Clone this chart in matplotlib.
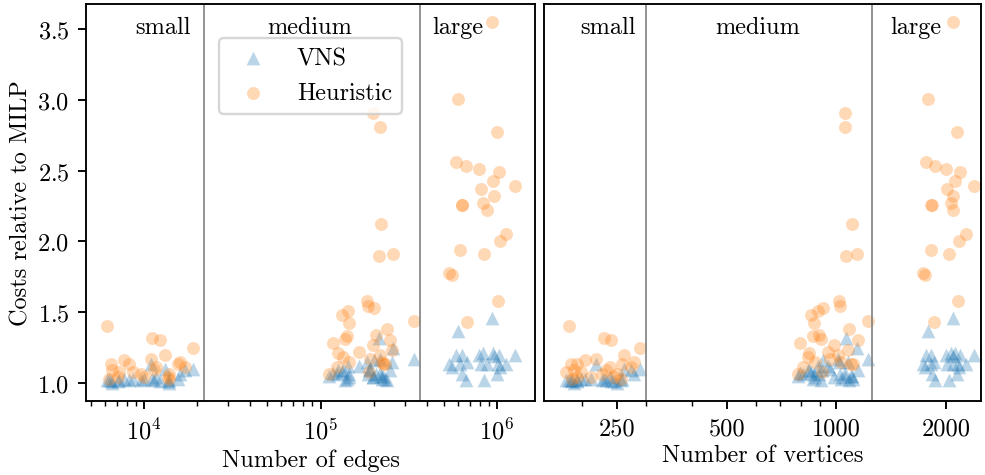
import matplotlib.pyplot as plt
import numpy as np
from matplotlib.ticker import NullFormatter

plt.rcParams['font.family'] = ['cmr10', 'DejaVu Serif']
plt.rcParams['mathtext.fontset'] = 'cm'
plt.rcParams['axes.formatter.use_mathtext'] = True
plt.rcParams['font.size'] = 10.3

# small instances
edges_small = [6170, 11100, 12300, 18950, 13150, 10960, 7700, 16000, 6500, 8220, 15580, 17070,
               11690, 6590, 7220, 8660, 11400, 13860, 9620, 7130, 10000, 13680, 6330, 13900]
vertices_small = [184, 229, 240, 289, 261, 218, 203, 278, 186, 193, 258, 273,
                  238, 190, 181, 199, 233, 250, 226, 193, 212, 244, 187, 256]
vns_small = [1.02, 1.03, 1.01, 1.10, 1.10, 1.13, 1.03, 1.06, 1.01, 1.02, 1.03, 1.09,
             1.04, 1.00, 1.02, 1.03, 1.02, 1.00, 1.02, 1.01, 1.03, 1.01, 1.02, 1.02]
heur_small = [1.40, 1.32, 1.30, 1.25, 1.20, 1.17, 1.16, 1.15, 1.13, 1.13, 1.13, 1.11,
              1.11, 1.09, 1.08, 1.08, 1.09, 1.06, 1.06, 1.04, 1.04, 1.04, 1.03, 1.03]

# medium instances
edges_medium = [198000, 217000, 220000, 257600, 214500, 183400, 185800, 201000, 143200, 132400, 145000,
                338800, 238200, 206300, 141300, 137700, 247600, 117800, 199000, 255000, 165200, 125700,
                216000, 134000, 190600, 144000, 222900, 226000, 231000, 124000, 187000, 111700]
vertices_medium = [1059, 1055, 1107, 1142, 1066, 1019, 1026, 921, 893, 854, 870,
                   1224, 1086, 898, 864, 909, 1150, 796, 988, 1079, 951, 843,
                   1013, 838, 960, 872, 1032, 1100, 1112, 812, 915, 786]
vns_medium = [1.04, 1.07, 1.05, 1.25, 1.32, 1.15, 1.06, 1.16, 1.12, 1.08, 1.06,
              1.17, 1.02, 1.06, 1.03, 1.02, 1.09, 1.07, 1.04, 1.15, 1.12, 1.09,
              1.17, 1.09, 1.10, 1.04, 1.03, 1.05, 1.03, 1.06, 1.09, 1.05]
heur_medium = [2.91, 2.81, 2.12, 1.91, 1.90, 1.58, 1.54, 1.53, 1.51, 1.48, 1.42,
               1.44, 1.38, 1.34, 1.33, 1.31, 1.30, 1.28, 1.27, 1.23, 1.22, 1.21,
               1.20, 1.18, 1.17, 1.15, 1.15, 1.13, 1.13, 1.11, 1.08, 1.06]

# large instances
edges_large = [937000, 601000, 1000000, 586000, 667000, 790000, 1026000, 949000, 1265000, 811000, 955000, 633000,
               635000, 833000, 877000, 1125000, 1040000, 617000, 844000, 535000, 556000, 1013000, 676000]
vertices_large = [2097, 1790, 2150, 1768, 1871, 2007, 2192, 2124, 2395, 2019, 2097, 1825,
                  1830, 2071, 2100, 2277, 2178, 1825, 2045, 1735, 1757, 2160, 1860]
vns_large = [1.46, 1.37, 1.06, 1.20, 1.02, 1.20, 1.20, 1.21, 1.20, 1.13, 1.19, 1.20,
             1.06, 1.21, 1.13, 1.13, 1.11, 1.13, 1.02, 1.13, 1.11, 1.13, 1.15]
heur_large = [3.55, 3.01, 2.77, 2.56, 2.53, 2.51, 2.49, 2.43, 2.39, 2.37, 2.32, 2.26,
              2.26, 2.27, 2.22, 2.05, 2.00, 1.94, 1.91, 1.78, 1.76, 1.58, 1.43]

edges = np.array(edges_small + edges_medium + edges_large)
vertices = np.array(vertices_small + vertices_medium + vertices_large)
vns = np.array(vns_small + vns_medium + vns_large)
heur = np.array(heur_small + heur_medium + heur_large)

edge_bounds = [2.2e4, 3.67e5]
vertex_bounds = [300, 1250]
edge_label_x = [1.28e4, 8.7e4, 6.0e5]
vertex_label_x = [235, 607, 1650]
size_names = ['small', 'medium', 'large']

fig = plt.figure(figsize=(985 / 170, 476 / 170), dpi=170)
ax1 = fig.add_axes([86 / 985, 74 / 476, 449 / 985, 397 / 476])
ax2 = fig.add_axes([544 / 985, 74 / 476, 437 / 985, 397 / 476], sharey=ax1)

for ax, x, bounds, lab_x in [(ax1, edges, edge_bounds, edge_label_x),
                             (ax2, vertices, vertex_bounds, vertex_label_x)]:
    ax.scatter(x, vns, marker='^', s=34, color='C0', alpha=0.3, linewidths=0, label='VNS')
    ax.scatter(x, heur, marker='o', s=30, color='C1', alpha=0.3, linewidths=0, label='Heuristic')
    ax.set_xscale('log')
    for b in bounds:
        ax.axvline(b, color='grey', lw=0.7)
    for lx, name in zip(lab_x, size_names):
        ax.text(lx, 0.97, name, transform=ax.get_xaxis_transform(), ha='center', va='top')

ax1.set_xlim(4690, 1.64e6)
ax2.set_xlim(157, 2500)
ax1.set_ylim(0.872, 3.678)
ax1.set_yticks([1.0, 1.5, 2.0, 2.5, 3.0, 3.5])

ax2.set_xticks([250, 500, 1000, 2000], labels=['250', '500', '1000', '2000'])
ax2.xaxis.set_minor_formatter(NullFormatter())
ax2.tick_params(axis='y', left=False, labelleft=False)

ax1.set_ylabel('Costs relative to MILP', labelpad=2)
ax1.set_xlabel('Number of edges', labelpad=2)
ax2.set_xlabel('Number of vertices', labelpad=2)
ax1.legend(loc='upper center', bbox_to_anchor=(0.5, 0.945))

fig.savefig('out.png', dpi=170)
